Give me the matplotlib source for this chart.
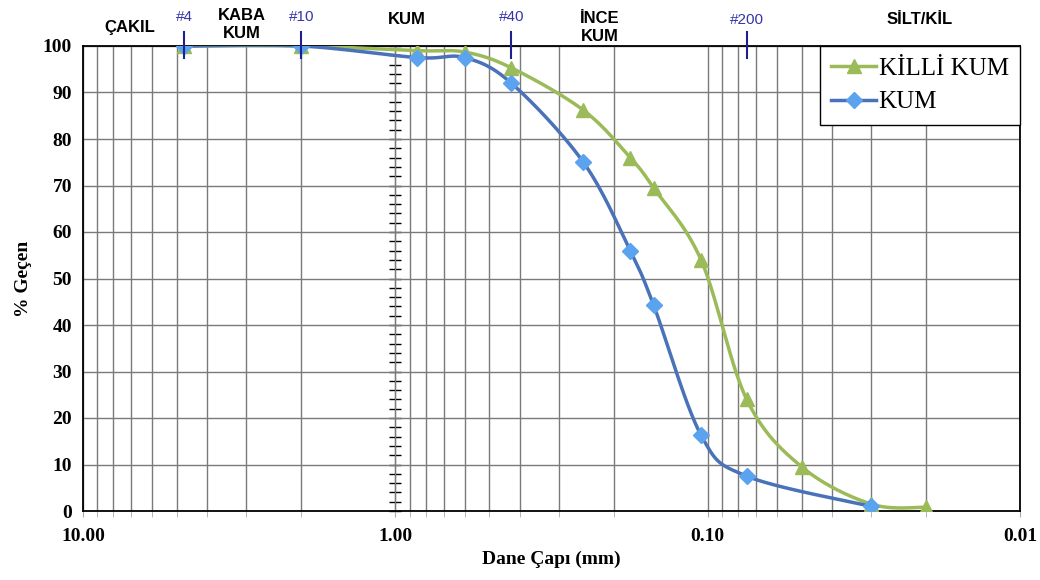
import numpy as np
import matplotlib
matplotlib.use('Agg')
import matplotlib.pyplot as plt
from matplotlib.ticker import FixedLocator, MultipleLocator, NullFormatter
import matplotlib.transforms as mtransforms

# grain size (mm) and percent passing
kum_d = [4.75, 2.0, 0.85, 0.60, 0.425, 0.25, 0.177, 0.149, 0.105, 0.075, 0.030]
kum_p = [100, 100, 97.5, 97.5, 92, 75, 56, 44.3, 16.3, 7.5, 1.0]

killi_d = [4.75, 2.0, 0.85, 0.60, 0.425, 0.25, 0.177, 0.149, 0.105, 0.075, 0.050, 0.030, 0.020]
killi_p = [100, 100, 99, 98.7, 95.3, 86.2, 76, 69.5, 54, 24, 9.5, 1.5, 0.8]

# sieve numbers and soil class labels on top
sieve_d = [4.75, 2.0, 0.425, 0.075]
sieve_lbl = ['#4', '#10', '#40', '#200']
class_d = [7.1, 3.1, 0.92, 0.222, 0.021]
class_lbl = ['ÇAKIL', 'KABA\nKUM', 'KUM', 'İNCE\nKUM', 'SİLT/KİL']

# vertical placement of the top labels (axes fraction)
sieve_y = [1.062, 1.062, 1.062, 1.056]
class_y = [1.039, 1.047, 1.056, 1.040, 1.056]

green = '#9BBB59'
blue_line = '#4A72B8'
blue_mark = '#5BA3EE'


def smooth(xs, ys, n=30):
    # catmull-rom curve in (log x, y) screen-like space, like excel smoothed lines
    u = -np.log10(np.array(xs, float)) / 3.0 * 937
    v = np.array(ys, float) / 100.0 * 465
    pts = np.column_stack([u, v])
    pts = np.vstack([pts[0], pts, pts[-1]])
    out = []
    t = np.linspace(0, 1, n)[:, None]
    for i in range(1, len(pts) - 2):
        p0, p1, p2, p3 = pts[i - 1], pts[i], pts[i + 1], pts[i + 2]
        c1 = p1 + (p2 - p0) / 6.0
        c2 = p2 - (p3 - p1) / 6.0
        seg = ((1 - t) ** 3) * p1 + 3 * ((1 - t) ** 2) * t * c1 + 3 * (1 - t) * t ** 2 * c2 + t ** 3 * p2
        out.append(seg)
    out = np.vstack(out)
    return 10 ** (-out[:, 0] / 937 * 3.0), out[:, 1] / 465 * 100


fig = plt.figure(figsize=(10.4, 5.8), dpi=100)
ax = fig.add_axes([83 / 1040, 1 - 511 / 580, 937 / 1040, 465 / 580])

ax.set_xscale('log')
ax.set_xlim(10, 0.01)
ax.set_ylim(0, 100)

# grid
ax.xaxis.set_major_locator(FixedLocator([10, 1, 0.1, 0.01]))
minors = [m * 10.0 ** e for e in (0, -1, -2) for m in range(2, 10)]
ax.xaxis.set_minor_locator(FixedLocator(minors))
ax.xaxis.set_minor_formatter(NullFormatter())
ax.set_xticklabels(['10.00', '1.00', '0.10', '0.01'])
ax.yaxis.set_major_locator(MultipleLocator(10))
ax.grid(True, which='major', color='#7a7a7a', lw=1)
ax.grid(True, which='minor', axis='x', color='#7a7a7a', lw=1)
ax.tick_params(axis='x', which='both', length=4, direction='out', color='#aaaaaa', pad=8)
ax.tick_params(axis='y', length=0, pad=8)
ax.tick_params(axis='both', labelsize=14)
for lbl in ax.get_xticklabels() + ax.get_yticklabels():
    lbl.set_fontfamily('Liberation Serif')
    lbl.set_fontweight('bold')
for s in ax.spines.values():
    s.set_color('black')
    s.set_linewidth(1.3)

# inner axis at 1 mm
sec = ax.secondary_yaxis(1 / 3.0)
sec.spines['right'].set_visible(False)
sec.spines['left'].set_color('black')
sec.yaxis.set_major_locator(MultipleLocator(10))
sec.yaxis.set_minor_locator(MultipleLocator(2))
sec.yaxis.set_major_formatter(NullFormatter())
sec.tick_params(which='both', direction='inout', length=8, width=1, color='black')

# curves
xs, ys = smooth(killi_d, killi_p)
ax.plot(xs, ys, color=green, lw=2.5, zorder=3)
ax.plot(killi_d, killi_p, ls='none', marker='^', ms=10, color=green, zorder=4)
xs, ys = smooth(kum_d, kum_p)
ax.plot(xs, ys, color=blue_line, lw=2.5, zorder=3)
ax.plot(kum_d, kum_p, ls='none', marker='D', ms=8, color=blue_mark, zorder=4)

# legend handles
h1, = ax.plot([], [], color=green, lw=2.5, marker='^', ms=10, label='KİLLİ KUM')
h2, = ax.plot([], [], color=blue_line, lw=2.5, marker='D', ms=8, mfc=blue_mark, mec=blue_mark, label='KUM')
leg = ax.legend(handles=[h1, h2], loc='upper right', borderaxespad=0, fancybox=False,
                edgecolor='black', framealpha=1, handlelength=1.8, handletextpad=0.1,
                borderpad=0.45, labelspacing=0.45,
                prop={'family': 'Liberation Serif', 'size': 18})
leg.get_frame().set_linewidth(1.0)
leg.set_zorder(5)

# sieve marks and class labels on top
trans = mtransforms.blended_transform_factory(ax.transData, ax.transAxes)
for d, s, yy in zip(sieve_d, sieve_lbl, sieve_y):
    ax.plot([d, d], [0.974, 1.03], color='#1F1F8F', lw=1.5, transform=trans, clip_on=False, zorder=6)
    ax.text(d, yy, s, transform=trans, ha='center', va='center', color='#3535A8',
            fontsize=11, family='Liberation Sans')
for d, s, yy in zip(class_d, class_lbl, class_y):
    ax.text(d, yy, s, transform=trans, ha='center', va='center', color='black',
            fontsize=12, fontweight='bold', family='Liberation Sans', linespacing=1.25)

ax.set_xlabel('Dane Çapı (mm)', fontsize=14, fontweight='bold', family='Liberation Serif', labelpad=4)
ax.set_ylabel('% Geçen', fontsize=14, fontweight='bold', family='Liberation Serif', labelpad=8)

fig.savefig('out.png', dpi=100)
